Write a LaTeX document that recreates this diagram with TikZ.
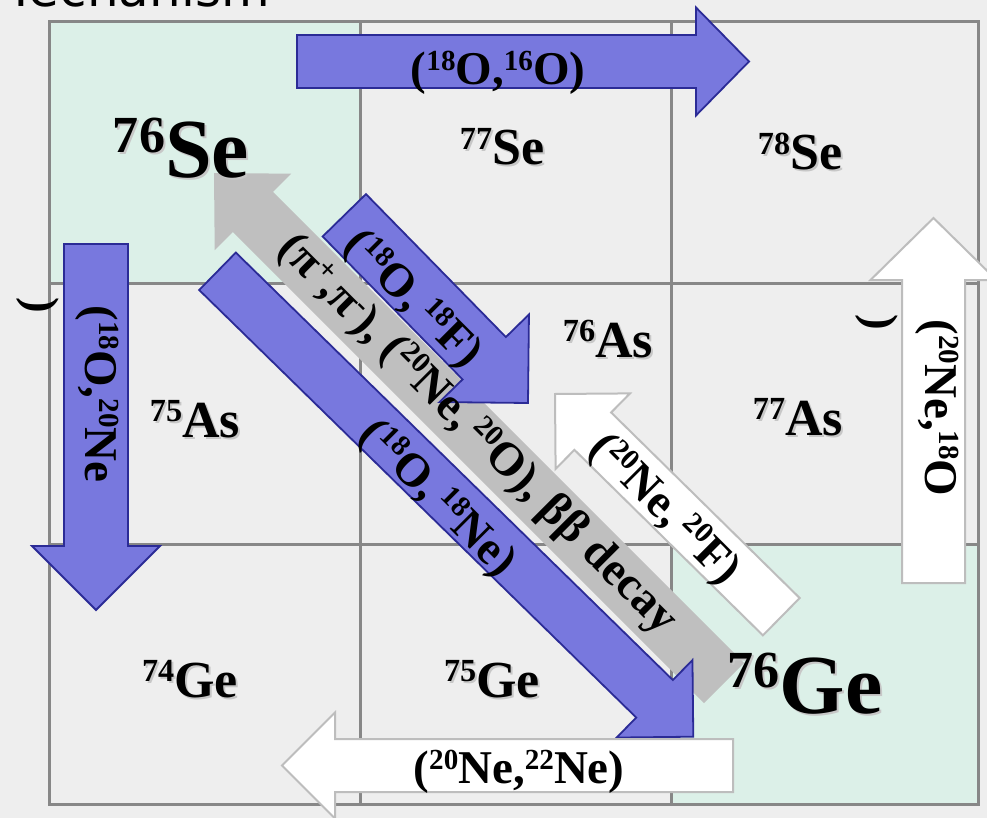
\documentclass[tikz,border=0pt]{standalone}
\usepackage{fontspec}
\setmainfont{Liberation Serif}
\newfontfamily\headfont{DejaVu Sans}
\usetikzlibrary{calc}
\definecolor{bg}{HTML}{EEEEEE}
\definecolor{mint}{HTML}{DCF0E8}
\definecolor{gridc}{HTML}{878787}
\definecolor{bfill}{HTML}{7878DE}
\definecolor{bdraw}{HTML}{2B2B96}
\definecolor{gfill}{HTML}{BFBFBF}
\definecolor{wdraw}{HTML}{BDBDBD}
\newcommand\up[1]{\raisebox{0.3em}{\scalebox{0.62}{#1}}}
% #1 style, #2 start coordinate, #3 tip coordinate, #4 body half width, #5 head half width, #6 head length
\newcommand\blockarrow[6]{%
  \coordinate (ba-B) at ($(#3)!#6!(#2)$);
  \path[#1] ($(#2)!#4!90:(#3)$) -- ($(ba-B)!#4!-90:(#2)$) -- ($(ba-B)!#5!-90:(#2)$) -- (#3)
    -- ($(ba-B)!#5!90:(#2)$) -- ($(ba-B)!#4!90:(#2)$) -- ($(#2)!#4!-90:(#3)$) -- cycle;
}
% text with a soft drop shadow, in one node
\newcommand\shd[1]{\makebox[0pt][l]{\hspace{2pt}\raisebox{-2pt}{\textcolor{black!22}{#1}}}#1}
\newcommand\nucl[4]{%
  \node[#1] (#2) at (#3) {\shd{#4}};
}
\begin{document}
\begin{tikzpicture}[x=1pt,y=-1pt,
  bluearrow/.style={fill=bfill,draw=bdraw,line width=1.8pt,line join=miter},
  whitearrow/.style={fill=white,draw=wdraw,line width=2pt,line join=miter},
  grayarrow/.style={fill=gfill},
  lab/.style={font=\fontsize{47}{50}\selectfont\bfseries, inner sep=0pt},
  nuc/.style={font=\fontsize{52}{56}\selectfont\bfseries, inner sep=0pt, anchor=base},
  bignuc/.style={font=\fontsize{84}{90}\selectfont\bfseries, inner sep=0pt, anchor=base}]

\useasboundingbox (0,0) rectangle (987,818);
\clip (0,0) rectangle (987,818);
\fill[bg] (0,0) rectangle (987,818);
\node[anchor=base east, inner sep=0pt, font=\headfont\fontsize{50}{60}\selectfont] (title) at (270,7) {Mechanism};

% cells and grid
\fill[mint] (49,22) rectangle (360,283);
\fill[mint] (671,544) rectangle (978,804);
\draw[gridc, line width=3pt] (49,22) rectangle (978,804);
\draw[gridc, line width=3pt] (360,22) -- (360,804) (671,22) -- (671,804)
  (49,283) -- (978,283) (49,544) -- (978,544);

% straight arrows
\coordinate (tb-s) at (297,61.5); \coordinate (tb-t) at (749,61.5);
\blockarrow{bluearrow}{tb-s}{tb-t}{26.5pt}{54pt}{53pt}
\coordinate (lb-s) at (96,244); \coordinate (lb-t) at (96,610);
\blockarrow{bluearrow}{lb-s}{lb-t}{32pt}{64pt}{64pt}
\coordinate (rw-s) at (933.5,583); \coordinate (rw-t) at (933.5,218);
\blockarrow{whitearrow}{rw-s}{rw-t}{31.5pt}{63pt}{62pt}

% diagonal arrows
\coordinate (ga-s) at (724,683); \coordinate (ga-t) at (214,173);
\blockarrow{grayarrow}{ga-s}{ga-t}{28.4pt}{54pt}{55pt}
\coordinate (fb-s) at (344.3,215.3); \coordinate (fb-t) at (528,403);
\blockarrow{bluearrow}{fb-s}{fb-t}{30.3pt}{62.6pt}{62.6pt}
\coordinate (nb-s) at (217.5,271.3); \coordinate (nb-t) at (693.3,736.7);
\blockarrow{bluearrow}{nb-s}{nb-t}{26.2pt}{54.2pt}{54.2pt}
\coordinate (fw-s) at (781.3,616.7); \coordinate (fw-t) at (555,394);
\blockarrow{whitearrow}{fw-s}{fw-t}{26.2pt}{53pt}{53pt}
\coordinate (bw-s) at (733,765.5); \coordinate (bw-t) at (282,765.5);
\blockarrow{whitearrow}{bw-s}{bw-t}{26.5pt}{53pt}{53pt}

% nuclide labels
\nucl{bignuc}{se76}{181,178}{\up{76}Se}
\nucl{nuc}{se77}{502,165}{\up{77}Se}
\nucl{nuc}{se78}{800,170}{\up{78}Se}
\nucl{nuc}{as75}{195,437}{\up{75}As}
\nucl{nuc}{as76}{608,357}{\up{76}As}
\nucl{nuc}{as77}{798,435}{\up{77}As}
\nucl{nuc}{ge74}{190,697}{\up{74}Ge}
\nucl{nuc}{ge75}{492,697}{\up{75}Ge}
\nucl{bignuc}{ge76}{805,713}{\up{76}Ge}

% arrow labels
\node[lab] (l-top) at (498,73) {(\up{18}O,\up{16}O)};
\node[lab, rotate=-90] (l-left) at (97,394) {(\up{18}O,\up{20}Ne};
\node[lab, rotate=-90] (l-left2) at (38,305) {)};
\node[lab, rotate=-90] (l-right) at (937,408) {(\up{20}Ne,\up{18}O};
\node[lab, rotate=-90] (l-right2) at (877,322) {)};
\node[lab] (l-bot) at (519,772) {(\up{20}Ne,\up{22}Ne)};
\node[lab, rotate=-45] (l-gray) at (477,435) {(π\up{+},π\up{-}), (\up{20}Ne,\,\up{20}O), ββ decay};
\node[lab, rotate=-45] (l-f) at (412,300) {(\up{18}O,\,\up{18}F)};
\node[lab, rotate=-45] (l-ne) at (437,499) {(\up{18}O,\,\up{18}Ne)};
\node[lab, rotate=-45] (l-fw) at (664,510) {(\up{20}Ne,\,\up{20}F)};
\end{tikzpicture}
\end{document}
